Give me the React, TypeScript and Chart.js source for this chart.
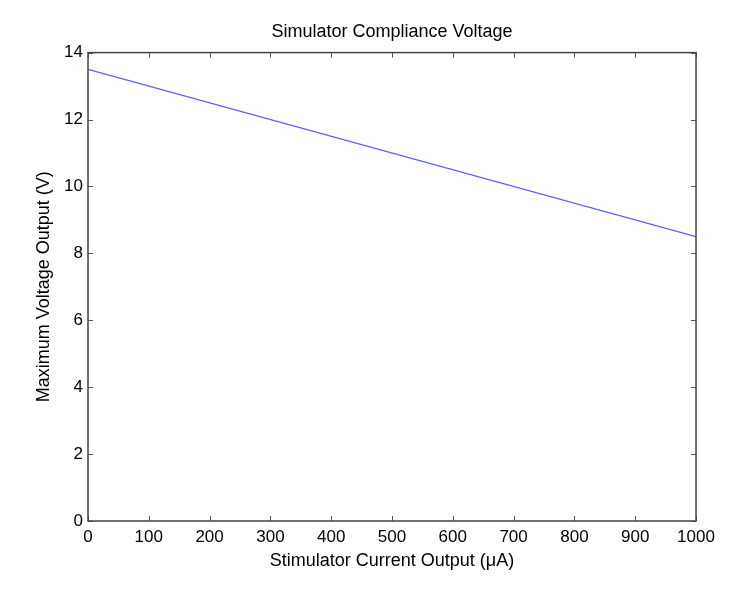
import { useEffect, useRef } from 'react';
import Chart from 'chart.js/auto';

const currentUA = [0, 1000];
const maxVoltage = [13.5, 8.5];
const xTicks = [0, 100, 200, 300, 400, 500, 600, 700, 800, 900, 1000];
const yTicks = [0, 2, 4, 6, 8, 10, 12, 14];

const FONT = 'Arial, "Liberation Sans", Helvetica, sans-serif';

// MATLAB-style box with inward tick marks on all four sides
const boxPlugin = {
  id: 'matlabBox',
  afterDraw(chart: Chart) {
    const { ctx, chartArea: a } = chart;
    const xs = chart.scales.x;
    const ys = chart.scales.y;
    const len = 5;
    ctx.save();
    ctx.strokeStyle = '#555';
    ctx.lineWidth = 1;
    ctx.beginPath();
    xTicks.forEach((v) => {
      const px = Math.round(xs.getPixelForValue(v)) + 0.5;
      ctx.moveTo(px, a.bottom);
      ctx.lineTo(px, a.bottom - len);
      ctx.moveTo(px, a.top);
      ctx.lineTo(px, a.top + len);
    });
    yTicks.forEach((v) => {
      const py = Math.round(ys.getPixelForValue(v)) + 0.5;
      ctx.moveTo(a.left, py);
      ctx.lineTo(a.left + len, py);
      ctx.moveTo(a.right, py);
      ctx.lineTo(a.right - len, py);
    });
    ctx.stroke();
    ctx.lineWidth = 1.5;
    ctx.strokeStyle = '#444';
    ctx.strokeRect(a.left, a.top, a.right - a.left, a.bottom - a.top);
    ctx.restore();
  },
};

export default function App() {
  const chartRef = useRef<HTMLCanvasElement>(null);
  const chartInstance = useRef<Chart | null>(null);

  useEffect(() => {
    document.body.style.margin = '0';
    if (!chartRef.current) return;
    if (chartInstance.current) chartInstance.current.destroy();
    const ctx = chartRef.current.getContext('2d');
    if (!ctx) return;

    chartInstance.current = new Chart(ctx, {
      type: 'scatter',
      data: {
        datasets: [
          {
            data: currentUA.map((x, i) => ({ x, y: maxVoltage[i] })),
            showLine: true,
            borderColor: '#5a5aff',
            borderWidth: 1.2,
            pointRadius: 0,
          },
        ],
      },
      options: {
        animation: false,
        responsive: false,
        layout: { padding: { left: 0, right: 53, top: 0, bottom: 0 } },
        plugins: {
          legend: { display: false },
          tooltip: { enabled: false },
          title: {
            display: true,
            fullSize: false,
            text: 'Simulator Compliance Voltage',
            color: '#000',
            font: { family: FONT, size: 18, weight: 'normal' },
            padding: { top: 21, bottom: 10 },
          },
        },
        scales: {
          x: {
            type: 'linear',
            min: 0,
            max: 1000,
            afterBuildTicks: (s: any) => {
              s.ticks = xTicks.map((value) => ({ value }));
            },
            afterFit: (s: any) => {
              s.height = 71;
            },
            grid: { display: true, drawOnChartArea: false, drawTicks: false },
            border: { display: false },
            ticks: {
              color: '#000',
              padding: 6,
              maxRotation: 0,
              autoSkip: false,
              font: { family: FONT, size: 17 },
              callback: (v: any) => String(v),
            },
            title: {
              display: true,
              text: 'Stimulator Current Output (μA)',
              color: '#000',
              font: { family: FONT, size: 18 },
              padding: { top: 4, bottom: 20 },
            },
          },
          y: {
            type: 'linear',
            min: 0,
            max: 14,
            afterBuildTicks: (s: any) => {
              s.ticks = yTicks.map((value) => ({ value }));
            },
            afterFit: (s: any) => {
              s.width = 88;
            },
            grid: { display: true, drawOnChartArea: false, drawTicks: false },
            border: { display: false },
            ticks: {
              color: '#000',
              padding: 5,
              autoSkip: false,
              font: { family: FONT, size: 17 },
            },
            title: {
              display: true,
              text: 'Maximum Voltage Output (V)',
              color: '#000',
              font: { family: FONT, size: 18 },
              padding: { top: 33, bottom: 4 },
            },
          },
        },
      },
      plugins: [boxPlugin],
    });

    return () => {
      if (chartInstance.current) {
        chartInstance.current.destroy();
        chartInstance.current = null;
      }
    };
  }, []);

  return (
    <div style={{ width: 749, height: 592, background: '#fff' }}>
      <canvas ref={chartRef} width={749} height={592} />
    </div>
  );
}
